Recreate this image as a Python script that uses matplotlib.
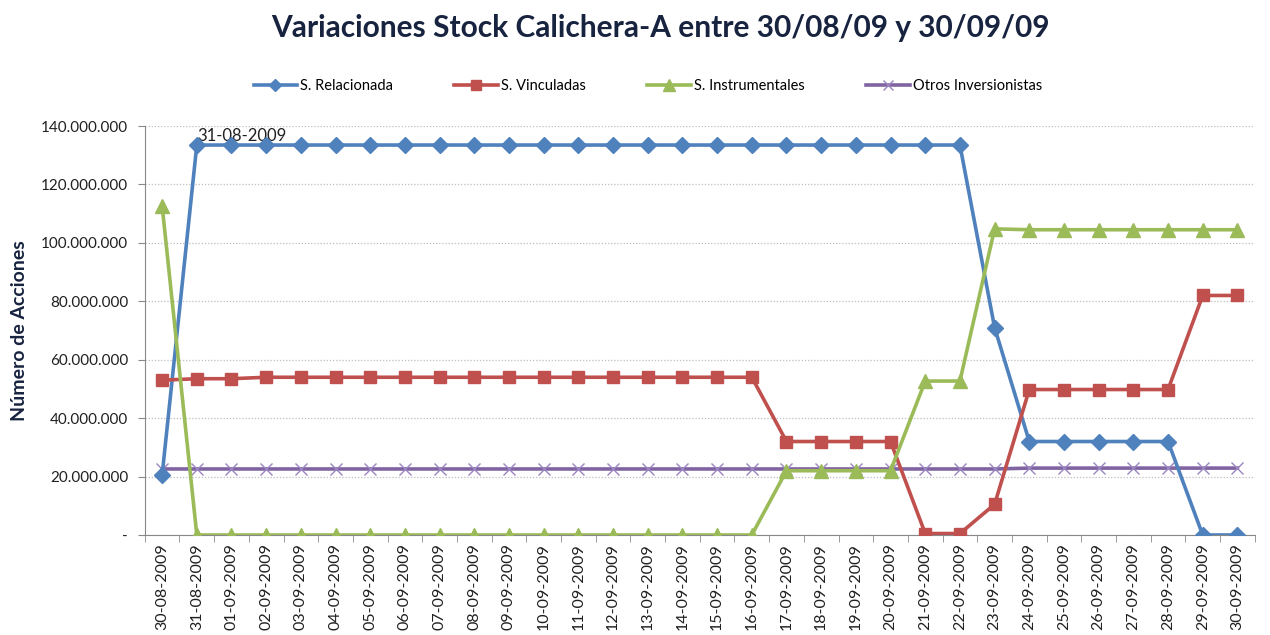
import matplotlib
matplotlib.use("Agg")
import matplotlib.pyplot as plt
from matplotlib.ticker import FuncFormatter, FixedLocator

plt.rcParams['font.family'] = ['Lato', 'DejaVu Sans']

dates = ["30-08-2009", "31-08-2009"] + [f"{d:02d}-09-2009" for d in range(1, 31)]

relacionada = [20.5] + [133.5] * 23 + [71.0] + [32.0] * 5 + [0.0, 0.0]
vinculadas = [53.0, 53.5, 53.5] + [54.0] * 15 + [32.0] * 4 + [0.5, 0.5, 10.5] + [49.8] * 5 + [82.0, 82.0]
instrumentales = [112.7] + [0.0] * 17 + [22.0] * 4 + [52.7, 52.7, 104.8] + [104.5] * 7
otros = [22.6] * 25 + [22.9] * 7

series_names = ["S. Relacionada", "S. Vinculadas", "S. Instrumentales", "Otros Inversionistas"]
scale = 1_000_000

fig = plt.figure(figsize=(12.7, 6.35), dpi=100)
ax = fig.add_axes([0.114, 0.1575, 0.874, 0.644])

x = list(range(len(dates)))
ax.plot(x, [v * scale for v in relacionada], color="#4F81BD", lw=2.6, marker="D", ms=8, label=series_names[0], zorder=4)
ax.plot(x, [v * scale for v in vinculadas], color="#C0504D", lw=2.6, marker="s", ms=9, label=series_names[1], zorder=4)
ax.plot(x, [v * scale for v in instrumentales], color="#9BBB59", lw=2.6, marker="^", ms=10, label=series_names[2], zorder=4)
ax.plot(x, [v * scale for v in otros], color="#8064A2", lw=2.6, marker="x", ms=9, mew=1, mec="#9A85C0", label=series_names[3], zorder=3)

ax.annotate(dates[1], (1, relacionada[1] * scale), xytext=(0, 1), textcoords="offset points",
            ha="left", va="bottom", fontsize=12, color="#202020")

ax.set_xlim(-0.5, len(dates) - 0.5)
ax.set_ylim(0, 140 * scale)
ax.yaxis.set_major_locator(FixedLocator([i * 20 * scale for i in range(8)]))

def yfmt(v, pos):
    if v == 0:
        return "-"
    return f"{int(round(v)):,}".replace(",", ".")
ax.yaxis.set_major_formatter(FuncFormatter(yfmt))

ax.set_xticks(x)
ax.set_xticklabels(dates, rotation=90, fontsize=11.5, color="#202020")
ax.set_xticks([i + 0.5 for i in range(-1, len(dates))], minor=True)
ax.tick_params(axis="x", which="major", length=0, pad=6)
ax.tick_params(axis="x", which="minor", length=5, color="#888888")
ax.tick_params(axis="y", length=5, color="#888888", labelsize=11, labelcolor="#202020", pad=7)

ax.grid(axis="y", linestyle=(0, (1, 1.5)), color="#BFBFBF", lw=0.9)
ax.set_axisbelow(True)
for s in ["top", "right"]:
    ax.spines[s].set_visible(False)
for s in ["left", "bottom"]:
    ax.spines[s].set_color("#888888")

ax.set_ylabel("Número de Acciones", fontsize=14, fontweight="bold", color="#17233F", labelpad=9)

fig.suptitle("Variaciones Stock Calichera-A entre 30/08/09 y 30/09/09", x=0.52, y=0.978,
             fontsize=21.5, fontweight="bold", color="#17233F")

fig.legend(loc="center", bbox_to_anchor=(0.51, 0.864), ncol=4, frameon=False, fontsize=10.5,
           handlelength=3, columnspacing=4.2, handletextpad=0.2, markerscale=0.8)

fig.savefig("out.png", dpi=100)
